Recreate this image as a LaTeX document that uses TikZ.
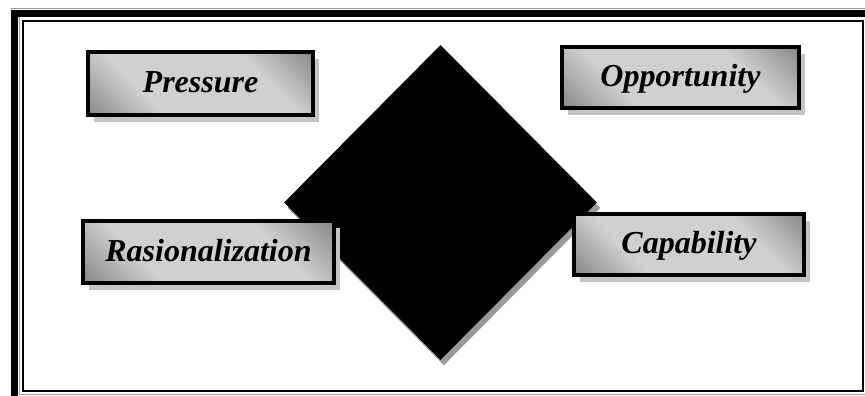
\documentclass[tikz,border=0pt]{standalone}
\usepackage{fontspec}
\setmainfont{Liberation Serif}
\usetikzlibrary{shapes.geometric,shadows}
\definecolor{FraudDark}{HTML}{727272}
\definecolor{FraudLight}{HTML}{D0D0D0}
\definecolor{FraudShadow}{HTML}{C4C4C4}
\definecolor{FraudEdge}{HTML}{9A9A9A}
\pgfdeclareverticalshading{factorshade}{100bp}{color(0bp)=(FraudDark);
  color(9bp)=(FraudDark); color(33bp)=(FraudLight); color(67bp)=(FraudLight);
  color(91bp)=(FraudDark); color(100bp)=(FraudDark)}

\begin{document}
\begin{tikzpicture}[x=0.75pt,y=-0.75pt,
    factor/.style={draw=black,line width=3pt,inner sep=0pt,
      text height=19pt,text depth=5pt,
      shading=factorshade,shading angle=-45,
      font=\fontsize{24}{28}\selectfont\bfseries\itshape,
      drop shadow={shadow xshift=4.5pt,shadow yshift=-5pt,
        fill=FraudShadow,opacity=1}},
    core/.style={diamond,fill=black,inner sep=0pt,
      minimum width=234.75pt,minimum height=236.25pt,
      drop shadow={shadow xshift=2.5pt,shadow yshift=-4pt,
        fill=FraudEdge,opacity=1}}]
  \useasboundingbox (0,0) rectangle (865,396);
  % page border
  \draw[FraudEdge,line width=0.75pt] (11,8) -- (865,8);
  \draw[FraudEdge,line width=0.75pt] (19.5,17) -- (19.5,394) -- (865,394);
  \draw[black,line width=5.5pt] (14.5,396) |- (865,13.5);
  \draw[black,line width=1.5pt] (23,21) rectangle (862.5,391);
  % triangle core
  \node[core] (fraud) at (440.5,202.5) {};
  % the four factors
  \node[factor,minimum width=168.75pt,minimum height=47.25pt]
    (pressure) at (200.5,83.5) {Pressure};
  \node[factor,minimum width=177.75pt,minimum height=45.75pt]
    (opportunity) at (680.5,77.5) {Opportunity};
  \node[factor,minimum width=188.25pt,minimum height=46.5pt]
    (rasionalization) at (208.5,252) {Rasionalization};
  \node[factor,minimum width=172.5pt,minimum height=45.75pt]
    (capability) at (689,244.5) {Capability};
\end{tikzpicture}
\end{document}
